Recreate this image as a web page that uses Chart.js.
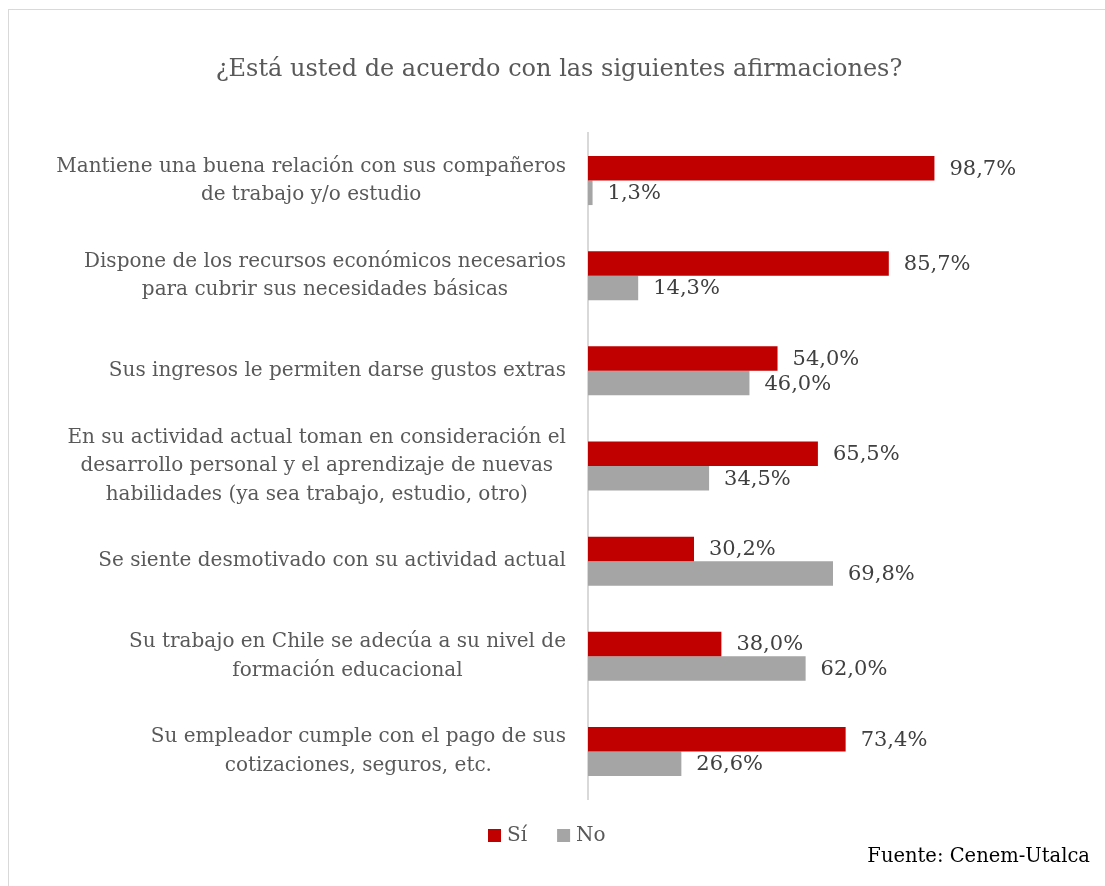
<!DOCTYPE html>
<html>
<head>
<meta charset="utf-8">
<script src="https://cdn.jsdelivr.net/npm/chart.js@4.4.1/dist/chart.umd.min.js"></script>
<style>
  html, body { margin: 0; padding: 0; background: #fff; overflow: hidden; }
  #wrap { position: relative; width: 1105px; height: 886px; }
  #frame { position: absolute; left: 8px; top: 9px; width: 1120px; height: 900px;
           border: 1.5px solid #d9d9d9; box-sizing: border-box; }
  #chart { position: absolute; left: 0; top: 0; }
</style>
</head>
<body>
<div id="wrap">
  <div id="frame"></div>
  <canvas id="chart" width="1105" height="886"></canvas>
</div>
<script>
const categories = [
  ['Mantiene una buena relación con sus compañeros', 'de trabajo y/o estudio'],
  ['Dispone de los recursos económicos necesarios', 'para cubrir sus necesidades básicas'],
  ['Sus ingresos le permiten darse gustos extras'],
  ['En su actividad actual toman en consideración el', 'desarrollo personal y el aprendizaje de nuevas', 'habilidades (ya sea trabajo, estudio, otro)'],
  ['Se siente desmotivado con su actividad actual'],
  ['Su trabajo en Chile se adecúa a su nivel de', 'formación educacional'],
  ['Su empleador cumple con el pago de sus', 'cotizaciones, seguros, etc.']
];
const siValues = [98.7, 85.7, 54.0, 65.5, 30.2, 38.0, 73.4];
const noValues = [1.3, 14.3, 46.0, 34.5, 69.8, 62.0, 26.6];
const seriesNames = ['Sí', 'No'];

const FONT = "'DejaVu Serif', 'Liberation Serif', serif";
const TEXT = '#595959';

// category labels: block right aligned, lines centred inside the block
const yLabels = {
  id: 'yLabels',
  afterDraw(chart) {
    const ctx = chart.ctx;
    const y = chart.scales.y;
    ctx.save();
    ctx.font = '20px ' + FONT;
    ctx.fillStyle = TEXT;
    ctx.textAlign = 'center';
    ctx.textBaseline = 'middle';
    const right = y.right - 22;
    const lh = 28.5;
    chart.data.labels.forEach((lines, i) => {
      const cy = y.getPixelForTick(i);
      const w = Math.max(...lines.map(l => ctx.measureText(l).width));
      const cx = right - w / 2;
      lines.forEach((l, j) => {
        ctx.fillText(l, cx, cy + (j - (lines.length - 1) / 2) * lh);
      });
    });
    ctx.restore();
  }
};

// value labels at the end of each bar
const valueLabels = {
  id: 'valueLabels',
  afterDatasetsDraw(chart) {
    const ctx = chart.ctx;
    ctx.save();
    ctx.font = '21px ' + FONT;
    ctx.fillStyle = '#404040';
    ctx.textAlign = 'left';
    ctx.textBaseline = 'middle';
    chart.data.datasets.forEach((ds, di) => {
      chart.getDatasetMeta(di).data.forEach((bar, i) => {
        const txt = ds.data[i].toFixed(1).replace('.', ',') + '%';
        ctx.fillText(txt, bar.x + 15, bar.y + 1);
      });
    });
    ctx.restore();
  }
};

// title, legend and source note
const extras = {
  id: 'extras',
  afterDraw(chart) {
    const ctx = chart.ctx;
    ctx.save();
    ctx.textBaseline = 'middle';
    ctx.font = '24px ' + FONT;
    ctx.fillStyle = TEXT;
    ctx.textAlign = 'center';
    ctx.fillText('¿Está usted de acuerdo con las siguientes afirmaciones?', 559, 70);

    ctx.font = '20px ' + FONT;
    ctx.textAlign = 'left';
    let x = 488;
    chart.data.datasets.forEach(ds => {
      ctx.fillStyle = ds.backgroundColor;
      ctx.fillRect(x, 829, 13, 13);
      ctx.fillStyle = TEXT;
      ctx.fillText(ds.label, x + 19, 836);
      x += 19 + ctx.measureText(ds.label).width + 30;
    });

    ctx.font = '19.5px ' + FONT;
    ctx.fillStyle = '#000';
    ctx.textAlign = 'right';
    ctx.fillText('Fuente: Cenem-Utalca', 1090, 857);
    ctx.restore();
  }
};

new Chart(document.getElementById('chart'), {
  type: 'bar',
  data: {
    labels: categories,
    datasets: [
      { label: seriesNames[0], data: siValues, backgroundColor: '#C00000' },
      { label: seriesNames[1], data: noValues, backgroundColor: '#A5A5A5' }
    ]
  },
  options: {
    indexAxis: 'y',
    responsive: false,
    animation: false,
    devicePixelRatio: 1,
    datasets: { bar: { categoryPercentage: 0.515, barPercentage: 1 } },
    layout: { padding: { left: 0, right: 166, top: 133, bottom: 87 } },
    scales: {
      x: { display: false, min: 0, max: 100 },
      y: {
        afterFit(scale) { scale.width = 588; },
        grid: { display: false, drawTicks: false },
        border: { display: true, color: '#d9d9d9', width: 2 },
        ticks: { display: false }
      }
    },
    plugins: {
      title: { display: false },
      legend: { display: false },
      tooltip: { enabled: false }
    }
  },
  plugins: [yLabels, valueLabels, extras]
});
</script>
</body>
</html>
